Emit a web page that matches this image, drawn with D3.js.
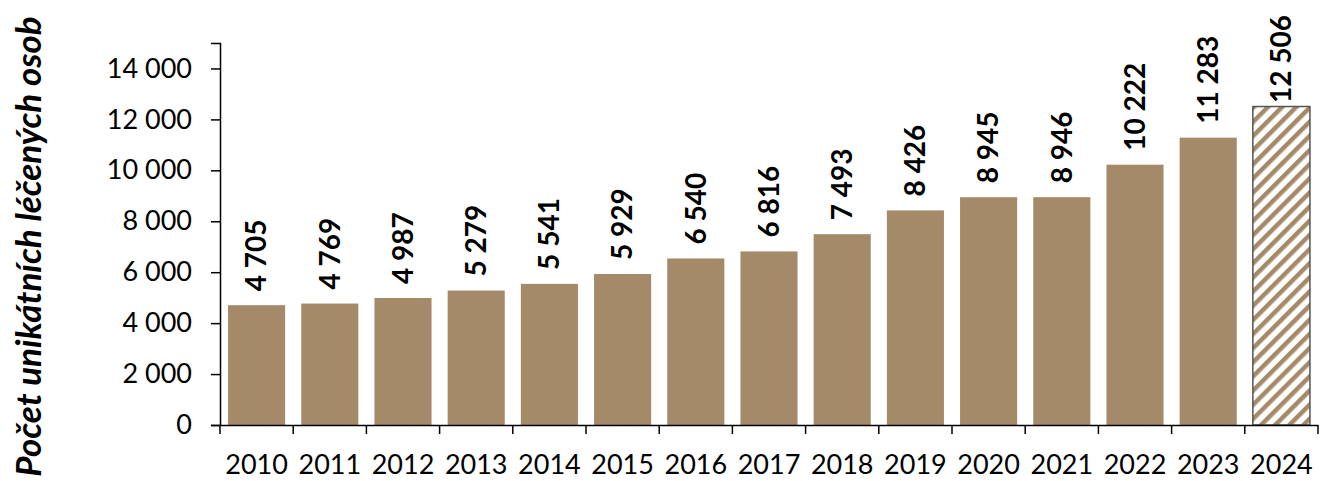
<!DOCTYPE html>
<html>
<head>
<meta charset="utf-8">
<script src="https://cdn.jsdelivr.net/npm/d3@7"></script>
<style>
  body { margin: 0; background: #fff; }
  svg { display: block; }
  svg text { font-family: Lato, "Open Sans", sans-serif; }
</style>
</head>
<body>
<div id="chart"></div>
<script>
// Daten
const years = ["2010", "2011", "2012", "2013", "2014", "2015", "2016", "2017", "2018", "2019", "2020", "2021", "2022", "2023", "2024"];
const persons = [4705, 4769, 4987, 5279, 5541, 5929, 6540, 6816, 7493, 8426, 8945, 8946, 10222, 11283, 12506];
const yTicks = [0, 2000, 4000, 6000, 8000, 10000, 12000, 14000];
const hatchedYears = ["2024"];
const yTitle = "Počet unikátních léčených osob";

const width = 1322;
const height = 481;
const margin = {top: 43, right: 4, bottom: 56, left: 220};

const fmt = d3.formatLocale({decimal: ",", thousands: "\u00a0", grouping: [3], currency: ["", " Kč"]}).format(",d");

const svg = d3.select("#chart")
  .append("svg")
  .attr("width", width)
  .attr("height", height);

// Muster für 2024
const defs = svg.append("defs");
const pat = defs.append("pattern")
  .attr("id", "hatch")
  .attr("patternUnits", "userSpaceOnUse")
  .attr("width", 10)
  .attr("height", 10)
  .attr("patternTransform", "rotate(45)");
pat.append("rect").attr("width", 10).attr("height", 10).attr("fill", "#fff");
pat.append("rect").attr("width", 4.5).attr("height", 10).attr("fill", "#A58A69");

const x = d3.scaleBand()
  .domain(years)
  .range([margin.left, width - margin.right])
  .paddingInner(0.22)
  .paddingOuter(0.11);

const y = d3.scaleLinear()
  .domain([0, 15000])
  .range([height - margin.bottom, margin.top]);

// Balken
svg.selectAll(".bar")
  .data(years)
  .join("rect")
  .attr("class", "bar")
  .attr("x", d => x(d))
  .attr("width", x.bandwidth())
  .attr("y", (d, i) => y(persons[i]))
  .attr("height", (d, i) => y(0) - y(persons[i]))
  .attr("fill", d => hatchedYears.includes(d) ? "url(#hatch)" : "#A58A69")
  .attr("stroke", d => hatchedYears.includes(d) ? "#555" : "none")
  .attr("stroke-width", 1.5);

// y-Achse
const yAxis = svg.append("g")
  .attr("transform", `translate(${margin.left},0)`)
  .call(d3.axisLeft(y).tickValues(yTicks).tickFormat(fmt).tickSize(9).tickPadding(19));
yAxis.attr("font-family", null);
yAxis.select(".domain").attr("stroke", "#000").attr("stroke-width", 1.5);
yAxis.selectAll(".tick line").attr("stroke", "#000").attr("stroke-width", 1.5);
yAxis.selectAll("text").style("font-size", "27px").attr("fill", "#000");

// x-Achse
const xAxis = svg.append("g")
  .attr("transform", `translate(0,${y(0)})`)
  .call(d3.axisBottom(x).tickSize(0).tickPadding(30).tickSizeOuter(0));
xAxis.attr("font-family", null);
xAxis.select(".domain").attr("stroke", "#000").attr("stroke-width", 1.5);
xAxis.selectAll("text").style("font-size", "27px").attr("fill", "#000");

// Trennstriche zwischen Kategorien
const step = x.step();
const x0 = x(years[0]) - x.paddingOuter() * step;
svg.selectAll(".sep")
  .data(d3.range(years.length + 1))
  .join("line")
  .attr("class", "sep")
  .attr("x1", i => x0 + i * step)
  .attr("x2", i => x0 + i * step)
  .attr("y1", y(0))
  .attr("y2", y(0) + 9)
  .attr("stroke", "#000")
  .attr("stroke-width", 1.5);

// Werte
const labels = svg.selectAll(".value")
  .data(years)
  .join("text")
  .attr("class", "value")
  .attr("text-anchor", "start")
  .attr("dy", "0.35em")
  .style("font-size", "28px")
  .style("font-weight", "bold")
  .attr("fill", "#000")
  .text((d, i) => fmt(persons[i]));

labels.each(function(d, i) {
  const len = this.getComputedTextLength();
  let base = y(persons[i]) - 14;
  if (base - len < 15) base = 15 + len;
  d3.select(this)
    .attr("transform", `translate(${x(d) + x.bandwidth() / 2},${base}) rotate(-90)`);
});

// Achsentitel
svg.append("text")
  .attr("transform", `translate(41,${height / 2 + 6}) rotate(-90)`)
  .attr("text-anchor", "middle")
  .style("font-size", "35px")
  .style("font-weight", "bold")
  .style("font-style", "italic")
  .attr("fill", "#000")
  .text(yTitle);
</script>
</body>
</html>
